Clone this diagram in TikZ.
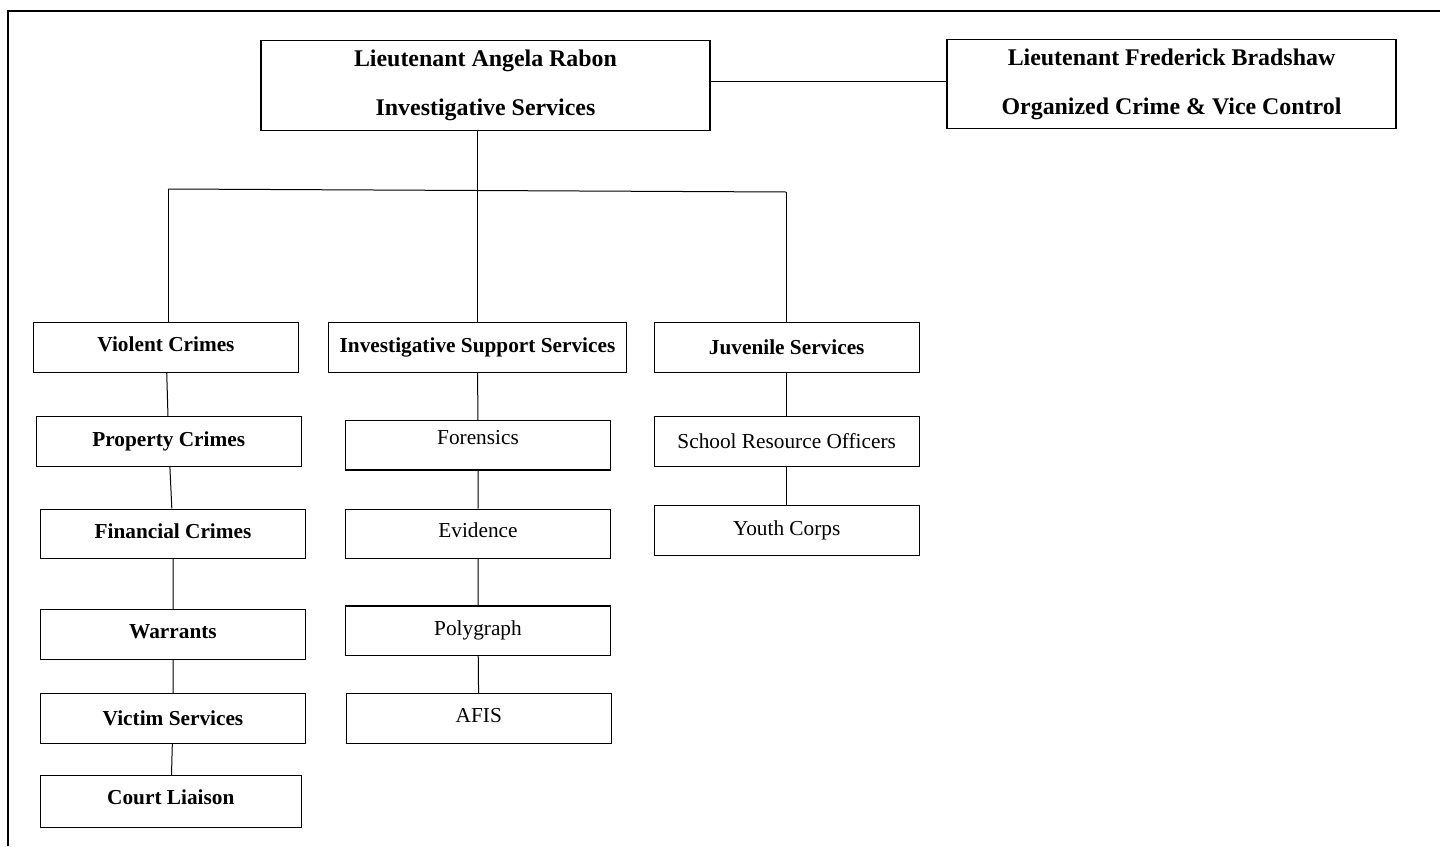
\documentclass[tikz,border=0pt]{standalone}
\usepackage{fontspec}
\setmainfont{Liberation Serif}
\usepackage{tikz}

\begin{document}
\begin{tikzpicture}[x=1pt,y=-1pt,
  box/.style={draw,line width=1.1pt,inner sep=0pt,minimum height=49.5pt,
    font=\fontsize{21.3}{25}\selectfont},
  bbox/.style={box,font=\fontsize{21.3}{25}\selectfont\bfseries},
  lift/.style={text depth=#1},
  head/.style={draw,line width=1.1pt,inner sep=0pt,align=center,
    minimum width=449pt,minimum height=89.5pt,
    font=\fontsize{23.9}{49}\selectfont\bfseries}]
\useasboundingbox (0,0) rectangle (1440,846);
\draw[line width=2pt] (8,846) -- (8,11) -- (1440,11);

\node[head] (rab) at (485.5,85.5) {Lieutenant Angela Rabon\\Investigative Services};
\node[head] (bra) at (1171.5,84) {Lieutenant Frederick Bradshaw\\Organized Crime \& Vice Control};

\node[bbox,lift=6pt,minimum width=265.4pt] (vc) at (166,347.3) {Violent Crimes};
\node[bbox,minimum width=265.3pt] (pc) at (168.7,441.3) {Property Crimes};
\node[bbox,lift=6pt,minimum width=265.4pt] (fc) at (173,533.8) {Financial Crimes};
\node[bbox,lift=5pt,minimum width=265.4pt] (wr) at (173,634.3) {Warrants};
\node[bbox,minimum width=265.4pt] (vs) at (173,718.3) {Victim Services};
\node[bbox,lift=8pt,minimum width=261pt,minimum height=51.6pt] (cl) at (170.8,801.5) {Court Liaison};

\node[bbox,minimum width=298.4pt] (iss) at (477.5,347.3) {Investigative Support Services};
\node[box,lift=15pt,minimum width=265.4pt] (for) at (478,445.2) {Forensics};
\node[box,lift=8pt,minimum width=265.4pt] (evi) at (478,533.8) {Evidence};
\node[box,minimum width=265.4pt] (pol) at (478,630.7) {Polygraph};
\node[box,lift=6pt,minimum width=265pt] (afi) at (478.8,718.3) {AFIS};

\node[bbox,minimum width=265.3pt] (juv) at (786.7,347.5) {Juvenile Services};
\node[box,minimum width=265.3pt] (sro) at (786.7,441.3) {School Resource Officers};
\node[box,minimum width=265.3pt] (yc) at (786.7,530.3) {Youth Corps};

\coordinate (hl) at (168,189);
\coordinate (hr) at (786,192);

\draw[line width=1pt] ([yshift=4.5pt]rab.east) -- ([yshift=3pt]bra.west);
\draw[line width=1pt] (iss.north |- rab.south) -- (iss.north);
\draw[line width=1pt] (hl) -- (hr);
\draw[line width=1pt] (hl) -- (hl |- vc.north);
\draw[line width=1pt] (hr) -- (hr |- juv.north);
% columns
\draw[line width=1pt] (vc) -- (pc) (pc) -- (fc) (fc) -- (wr) (wr) -- (vs) (vs) -- (cl);
\draw[line width=1pt] (iss) -- (for) (for) -- (evi) (evi) -- (pol) (pol) -- (afi);
\draw[line width=1pt] (juv) -- (sro) (sro) -- (yc);
\end{tikzpicture}
\end{document}
